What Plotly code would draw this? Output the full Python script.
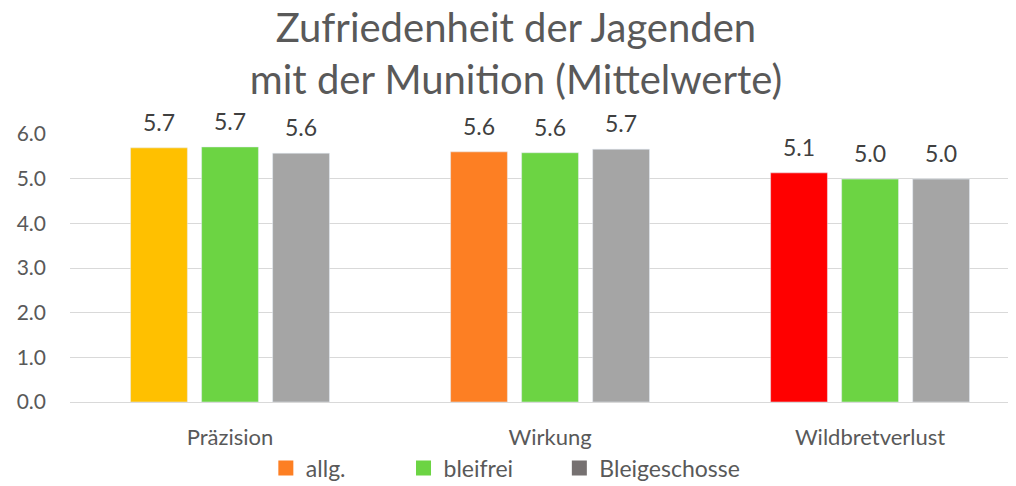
import plotly.graph_objects as go

categories = ["Präzision", "Wirkung", "Wildbretverlust"]
allg = [5.69, 5.60, 5.13]
bleifrei = [5.71, 5.58, 4.99]
bleigeschosse = [5.57, 5.66, 4.99]
allg_colors = ["#FFC000", "#FD7F23", "#FF0000"]
y_ticks = [0, 1, 2, 3, 4, 5, 6]

FONT = "Lato"
TXT = "#595959"
NB = "\u00a0"

series = [
    ("allg.", allg, allg_colors, "#FD7F23", "g1"),
    ("bleifrei", bleifrei, "#6CD443", "#6CD443", "g2"),
    ("Bleigeschosse", bleigeschosse, "#A5A5A5", "#767171", "g3"),
]
legend_names = ["allg." + NB * 9, "bleifrei" + NB * 7, "Bleigeschosse"]

fig = go.Figure()
for (name, vals, col, _, grp) in series:
    fig.add_trace(go.Bar(x=categories, y=vals, name=name, marker=dict(color=col),
                         offsetgroup=grp, showlegend=False, hoverinfo="x+y"))
for (name, vals, _, _, grp) in series:
    fig.add_trace(go.Scatter(x=categories, y=vals, mode="markers+text",
                             text=[f"{v:.1f}" for v in vals], textposition="top center",
                             textfont=dict(family=FONT, size=23, color="#404040"),
                             marker=dict(size=16, opacity=0), offsetgroup=grp,
                             cliponaxis=False, showlegend=False, hoverinfo="skip"))
for (name, _, _, lcol, grp), lname in zip(series, legend_names):
    fig.add_trace(go.Scatter(x=[None], y=[None], mode="markers", name=lname,
                             offsetgroup=grp,
                             marker=dict(symbol="square", size=15, color=lcol)))

fig.update_layout(
    width=1016, height=486,
    paper_bgcolor="white", plot_bgcolor="white",
    margin=dict(l=62, r=8, t=126, b=92, autoexpand=False),
    barmode="group", bargap=0.334, bargroupgap=0.2,
    scattermode="group", scattergap=0.334,
    title=dict(text="Zufriedenheit der Jagenden<br>mit der Munition (Mittelwerte)",
               x=0.5, xanchor="center", xref="container",
               y=0.93, yanchor="middle", yref="container",
               font=dict(family=FONT, size=40, color=TXT)),
    font=dict(family=FONT, color=TXT),
    legend=dict(orientation="h", x=0.49, xanchor="center", y=0.0535, yanchor="middle",
                yref="container", xref="container", bgcolor="rgba(0,0,0,0)",
                font=dict(family=FONT, size=23, color=TXT)),
    xaxis=dict(range=[-0.5, 2.456], tickfont=dict(family=FONT, size=22, color=TXT),
               showgrid=False, showline=False, ticks="", ticklabelstandoff=20,
               automargin=False),
    yaxis=dict(range=[0, 6], tickvals=y_ticks, tickformat=".1f",
               tickfont=dict(family=FONT, size=21, color=TXT),
               gridcolor="#D9D9D9", zeroline=True, zerolinecolor="#D9D9D9",
               zerolinewidth=1, ticks="", ticklabelstandoff=23, automargin=False),
)

fig.write_html("out.html")
